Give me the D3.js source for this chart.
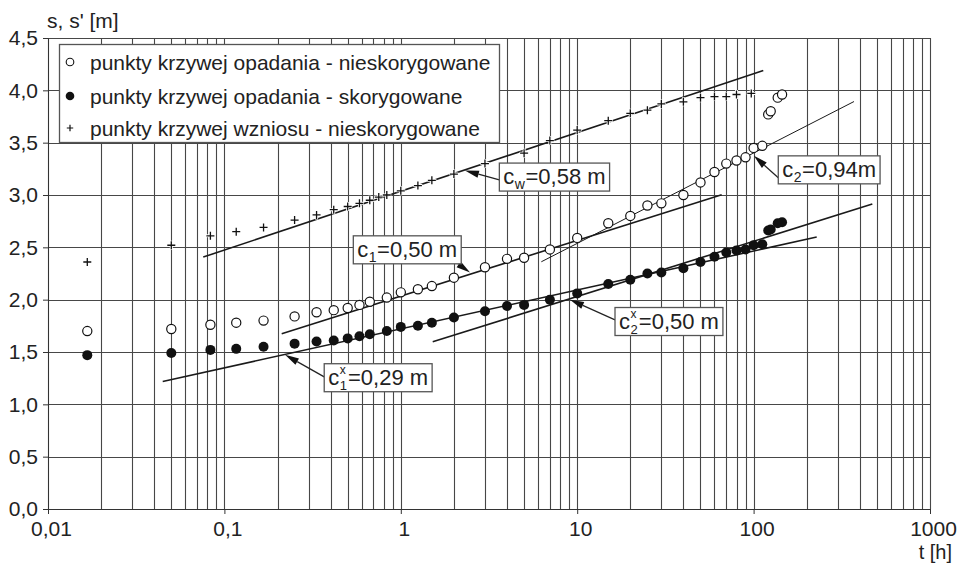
<!DOCTYPE html>
<html><head><meta charset="utf-8">
<script src="https://cdn.jsdelivr.net/npm/d3@7"></script>
<style>
body{margin:0;background:#fff}
svg{display:block}
text{font-family:"Liberation Sans",Arial,Helvetica,sans-serif;fill:#222}
</style>
</head><body>
<svg id="chart" width="960" height="564"></svg>
<script>
// ---- data ----
const timesDrawdown = [0.0167,0.05,0.0833,0.1167,0.1667,0.25,0.333,0.4167,0.5,0.583,0.667,0.833,1,1.25,1.5,2,3,4,5,7,10,15,20,25,30,40,50,60,70,80,90,100,112,121,125,137,145];
const sUncorrected = [1.70,1.72,1.76,1.78,1.80,1.84,1.88,1.90,1.92,1.95,1.98,2.02,2.07,2.10,2.13,2.21,2.31,2.39,2.40,2.48,2.59,2.73,2.80,2.90,2.92,3.00,3.12,3.22,3.30,3.33,3.36,3.45,3.47,3.77,3.80,3.93,3.96];
const sCorrected = [1.47,1.49,1.52,1.53,1.55,1.58,1.60,1.61,1.63,1.65,1.67,1.70,1.74,1.75,1.78,1.83,1.89,1.94,1.95,2.00,2.06,2.15,2.19,2.25,2.26,2.30,2.36,2.41,2.45,2.47,2.48,2.52,2.53,2.66,2.67,2.73,2.74];
const timesRecovery = [0.0167,0.05,0.0833,0.1167,0.1667,0.25,0.333,0.4167,0.5,0.583,0.667,0.75,0.833,1,1.25,1.5,2,3,5,7,10,15,20,25,30,40,50,60,70,80,97];
const sRecovery = [2.36,2.52,2.61,2.65,2.69,2.76,2.81,2.86,2.89,2.92,2.95,2.98,3.00,3.04,3.09,3.14,3.20,3.30,3.40,3.52,3.62,3.71,3.78,3.81,3.87,3.89,3.93,3.94,3.94,3.96,3.97];

// fitted straight lines: [t, s] end points
const lineCw  = [[0.0759,2.407],[113.5,4.189]];
const lineC2  = [[6.26,2.362],[370.8,3.893]];
const lineC1  = [[0.2113,1.674],[65.9,3.002]];
const lineC1x = [[0.0447,1.219],[227.9,2.598]];
const lineC2x = [[1.517,1.598],[471,2.913]];

const xTickValues = [0.01,0.1,1,10,100,1000];
const xTickLabels = ["0,01","0,1","1","10","100","1000"];
const yTickValues = [0,0.5,1,1.5,2,2.5,3,3.5,4,4.5];
const yTickLabels = ["0,0","0,5","1,0","1,5","2,0","2,5","3,0","3,5","4,0","4,5"];

const legendLabels = ["punkty krzywej opadania - nieskorygowane","punkty krzywej opadania - skorygowane","punkty krzywej wzniosu - nieskorygowane"];

// annotation labels
const annLabels = [
  {main:"c", sub:"w", sup:null, rest:"=0,58 m"},
  {main:"c", sub:"2", sup:null, rest:"=0,94m"},
  {main:"c", sub:"1", sup:null, rest:"=0,50 m"},
  {main:"c", sub:"1", sup:"x", rest:"=0,29 m"},
  {main:"c", sub:"2", sup:"x", rest:"=0,50 m"}
];
// annotation placement (tip of arrow and box top-left in data coords, tail as fraction of box)
const annPlace = [
  {tip:[2.31,3.234], box:[3.62,3.305], tail:[0,0.6]},
  {tip:[100.4,3.374], box:[138,3.374], tail:[0,0.78]},
  {tip:[2.47,2.26], box:[0.538,2.61], tail:[0.97,1]},
  {tip:[0.2206,1.474], box:[0.368,1.388], tail:[0,0.47]},
  {tip:[9.1,2.0], box:[16.38,1.925], tail:[0,0.44]}
];

// ---- drawing ----
const svg = d3.select("#chart");
const x = d3.scaleLog().domain([0.01,1000]).range([48,930]);
const y = d3.scaleLinear().domain([0,4.5]).range([509,38]);
const gridColor = "#474747";
const FONT = '"Liberation Sans",Arial,sans-serif';

// grid
const minor = [];
for (let e=-2; e<3; e++) for (let k=1; k<10; k++) minor.push(k*Math.pow(10,e));
minor.push(1000);
const grid = svg.append("g");
grid.selectAll("line.v").data(minor).join("line")
  .attr("x1",d=>Math.round(x(d))+0.5).attr("x2",d=>Math.round(x(d))+0.5)
  .attr("y1",y(0)).attr("y2",y(4.5))
  .attr("stroke",gridColor).attr("stroke-width",1.1);
grid.selectAll("line.h").data(yTickValues).join("line")
  .attr("x1",x(0.01)).attr("x2",x(1000))
  .attr("y1",d=>Math.round(y(d))+0.5).attr("y2",d=>Math.round(y(d))+0.5)
  .attr("stroke",gridColor).attr("stroke-width",1.1);

// axes
const yAxis = svg.append("g").attr("transform",`translate(${x(0.01)},0)`)
  .call(d3.axisLeft(y).tickValues(yTickValues).tickSize(5).tickPadding(5).tickFormat((d,i)=>yTickLabels[i]));
const xAxis = svg.append("g").attr("transform",`translate(0,${y(0)})`)
  .call(d3.axisBottom(x).tickValues(xTickValues).tickSize(5).tickPadding(7).tickFormat((d,i)=>xTickLabels[i]));
[yAxis,xAxis].forEach(a=>{
  a.select(".domain").attr("stroke","#333");
  a.selectAll(".tick line").attr("stroke","#333");
  a.selectAll(".tick text").style("font-size","21px").attr("fill","#222").style("font-family",FONT);
});
xAxis.selectAll(".tick text").attr("dx",3);

svg.append("text").attr("x",47).attr("y",28).style("font-size","21px").text("s, s' [m]");
svg.append("text").attr("x",952).attr("y",559).attr("text-anchor","end").style("font-size","20px").text("t [h]");

// legend
const leg = svg.append("g");
leg.append("rect").attr("x",59.5).attr("y",44.5).attr("width",440).attr("height",98)
  .attr("fill","#fff").attr("stroke","#555").attr("stroke-width",1.3);
const legY = [62,96,128];

// fitted lines
const lineGen = d3.line().x(d=>x(d[0])).y(d=>y(d[1]));
const lines = [
  {d:lineCw, w:1.6},{d:lineC2, w:1},{d:lineC1, w:1.6},{d:lineC1x, w:1.6},{d:lineC2x, w:1.6}
];
svg.append("g").selectAll("path").data(lines).join("path")
  .attr("d",d=>lineGen(d.d)).attr("fill","none").attr("stroke","#1a1a1a").attr("stroke-width",d=>d.w);

// markers
const plusPath = s => `M${-s},0H${s}M0,${-s}V${s}`;
const recov = timesRecovery.map((t,i)=>[t,sRecovery[i]]);
const unc = timesDrawdown.map((t,i)=>[t,sUncorrected[i]]);
const cor = timesDrawdown.map((t,i)=>[t,sCorrected[i]]);
const mk = svg.append("g");
mk.selectAll("path.halo").data(recov).join("path").attr("class","halo")
  .attr("transform",d=>`translate(${x(d[0])},${y(d[1])})`).attr("d",plusPath(4.5))
  .attr("stroke","#fff").attr("stroke-width",3);
mk.selectAll("path.plus").data(recov).join("path").attr("class","plus")
  .attr("transform",d=>`translate(${x(d[0])},${y(d[1])})`).attr("d",plusPath(4))
  .attr("stroke","#111").attr("stroke-width",1.3);
mk.selectAll("circle.o").data(unc).join("circle").attr("class","o")
  .attr("cx",d=>x(d[0])).attr("cy",d=>y(d[1])).attr("r",4.6)
  .attr("fill","#fff").attr("stroke","#111").attr("stroke-width",1.2);
mk.selectAll("circle.f").data(cor).join("circle").attr("class","f")
  .attr("cx",d=>x(d[0])).attr("cy",d=>y(d[1])).attr("r",5)
  .attr("fill","#111");

// legend entries
leg.raise();
leg.append("circle").attr("cx",70).attr("cy",legY[0]).attr("r",3.8).attr("fill","#fff").attr("stroke","#111").attr("stroke-width",1.1);
leg.append("circle").attr("cx",70).attr("cy",legY[1]).attr("r",4.3).attr("fill","#111");
leg.append("path").attr("transform",`translate(70,${legY[2]})`).attr("d",plusPath(3.2)).attr("stroke","#111").attr("stroke-width",1.2);
leg.selectAll("text").data(legendLabels).join("text")
  .attr("x",90).attr("y",(d,i)=>legY[i]+7.5).style("font-size","21px").text(d=>d);

// helper: measure text width
function measure(str, size){
  const t = svg.append("text").style("font-size",size+"px").text(str);
  const w = t.node().getComputedTextLength();
  t.remove();
  return w;
}

// annotations
const ann = svg.append("g");
annLabels.forEach((lab,i)=>{
  const p = annPlace[i];
  const bx = x(p.box[0]), by = y(p.box[1]);
  const g = ann.append("g");
  const rect = g.append("rect").attr("fill","#fff").attr("stroke","#555").attr("stroke-width",1.3);
  const base = by + 21;
  const x0 = bx + 4;
  const xIdx = x0 + measure(lab.main,22) + 0.5;
  const wIdx = Math.max(lab.sub?measure(lab.sub,14):0, lab.sup?measure(lab.sup,12):0);
  const xRest = xIdx + wIdx + 0.5;
  const wRest = measure(lab.rest,22);
  const txt = g.append("text").attr("x",x0).attr("y",base).style("font-size","22px");
  txt.append("tspan").attr("x",x0).attr("y",base).text(lab.main);
  if (lab.sup) txt.append("tspan").attr("x",xIdx).attr("y",base-11).style("font-size","12px").text(lab.sup);
  if (lab.sub) txt.append("tspan").attr("x",xIdx).attr("y",base+5).style("font-size",(lab.sup?"13px":"14px")).text(lab.sub);
  txt.append("tspan").attr("x",xRest).attr("y",base).text(lab.rest);
  const bw = xRest + wRest + 4 - bx, bh = 28;
  rect.attr("x",bx).attr("y",by).attr("width",bw).attr("height",bh);
  // arrow
  const tx = bx + p.tail[0]*bw, ty = by + p.tail[1]*bh;
  const hx = x(p.tip[0]), hy = y(p.tip[1]);
  const ang = Math.atan2(hy-ty, hx-tx);
  const L = 14, W = 3.6;
  const bxp = hx - L*Math.cos(ang), byp = hy - L*Math.sin(ang);
  ann.insert("line",":first-child").attr("x1",tx).attr("y1",ty).attr("x2",bxp).attr("y2",byp)
    .attr("stroke","#222").attr("stroke-width",1.2);
  ann.insert("path",":first-child").attr("d",`M${hx},${hy}L${bxp - W*Math.sin(ang)},${byp + W*Math.cos(ang)}L${bxp + W*Math.sin(ang)},${byp - W*Math.cos(ang)}Z`)
    .attr("fill","#111");
});
</script>
</body></html>
